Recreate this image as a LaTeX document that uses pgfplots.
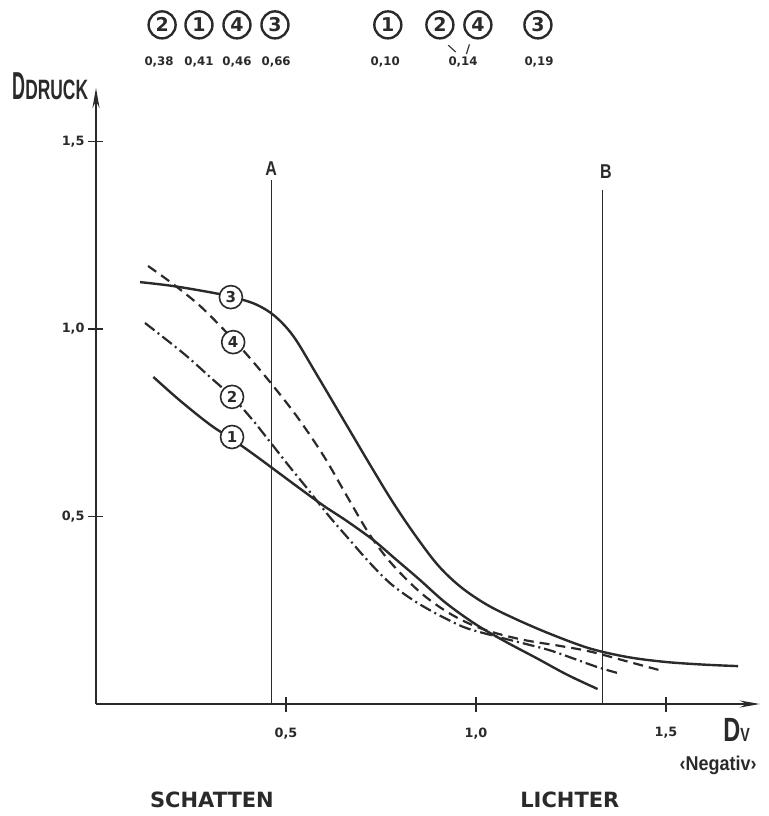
\documentclass[border=0pt]{standalone}
\usepackage{fontspec}
\setmainfont{DejaVu Sans}
\newfontfamily\lib{Liberation Sans}
\usepackage{graphicx}
\usepackage{pgfplots}
\pgfplotsset{compat=1.18}
\usetikzlibrary{arrows.meta}
\definecolor{ink}{HTML}{2A2A2A}

\pgfplotstableread{
x y
0.116 1.125
0.20 1.115
0.30 1.098
0.36 1.085
0.42 1.066
0.47 1.035
0.52 0.980
0.58 0.880
0.65 0.760
0.72 0.640
0.78 0.540
0.84 0.450
0.90 0.370
0.96 0.312
1.03 0.264
1.11 0.224
1.20 0.185
1.30 0.148
1.40 0.125
1.50 0.112
1.60 0.105
1.69 0.101
}\curveC

\pgfplotstableread{
x y
0.137 1.168
0.20 1.122
0.27 1.065
0.33 1.005
0.39 0.940
0.46 0.856
0.53 0.765
0.60 0.660
0.66 0.555
0.72 0.452
0.78 0.372
0.86 0.292
0.94 0.236
1.02 0.199
1.12 0.172
1.22 0.155
1.30 0.140
1.40 0.113
1.484 0.090
}\curveD

\pgfplotstableread{
x y
0.129 1.016
0.229 0.936
0.30 0.872
0.358 0.819
0.41 0.760
0.458 0.699
0.51 0.632
0.555 0.576
0.61 0.505
0.668 0.437
0.72 0.377
0.774 0.322
0.83 0.280
0.879 0.250
0.93 0.223
0.976 0.202
1.05 0.181
1.12 0.163
1.195 0.143
1.26 0.120
1.318 0.099
1.371 0.083
}\curveB

\pgfplotstableread{
x y
0.151 0.872
0.22 0.810
0.30 0.745
0.36 0.705
0.42 0.662
0.48 0.617
0.54 0.572
0.60 0.528
0.66 0.488
0.73 0.437
0.79 0.385
0.85 0.333
0.92 0.270
1.00 0.212
1.08 0.165
1.16 0.122
1.24 0.078
1.32 0.040
}\curveA

\begin{document}
\begin{tikzpicture}
\path[use as bounding box] (-48pt,-56pt) rectangle (336pt,352pt);
\begin{axis}[
  anchor=origin, at={(0pt,0pt)},
  x=190pt, y=187.5pt,
  xmin=0, xmax=1.747, ymin=0, ymax=1.643,
  axis lines=left,
  axis line style={line width=1.1pt, ink},
  x axis line style={-{Stealth[length=10pt,width=3.5pt]}},
  y axis line style={-{Stealth[length=10pt,width=3.5pt]}},
  xtick={0.5,1,1.5}, ytick={0.5,1,1.5},
  tick align=center,
  major tick length=7.5pt,
  tick style={line width=0.6pt, ink},
  /pgf/number format/use comma,
  /pgf/number format/fixed,
  /pgf/number format/fixed zerofill,
  /pgf/number format/precision=1,
  /pgf/number format/assume math mode=true,
  ticklabel style={font=\bfseries\fontsize{6.4}{6.4}\selectfont, text=ink},
  xticklabel style={yshift=-4.5pt},
  yticklabel style={xshift=1.5pt},
  clip=false,
]
% reference lines A and B
\addplot[ink, line width=0.5pt] coordinates {(0.463,0) (0.463,1.397)};
\addplot[ink, line width=0.5pt] coordinates {(1.334,0) (1.334,1.371)};

% curves
\addplot[ink, line width=1.2pt, smooth, tension=0.55] table {\curveC};
\addplot[ink, line width=1.1pt, smooth, tension=0.55, dash pattern=on 5pt off 3pt] table {\curveD};
\addplot[ink, line width=1.1pt, smooth, tension=0.55, dash pattern=on 6pt off 2pt on 1pt off 2pt] table {\curveB};
\addplot[ink, line width=1.2pt, smooth, tension=0.55] table {\curveA};

% circled labels on the curves
\tikzset{cl/.style={circle, draw=ink, line width=0.8pt, fill=white, minimum size=11.5pt, inner sep=0pt, text=ink, font=\bfseries\fontsize{7.5}{7.5}\selectfont}}
\node[cl] at (axis cs:0.355,1.085) {3};
\node[cl] at (axis cs:0.361,0.965) {4};
\node[cl] at (axis cs:0.358,0.819) {2};
\node[cl] at (axis cs:0.358,0.712) {1};

% A and B
\node[text=ink, font=\lib\bfseries\fontsize{10}{10}\selectfont] at (axis cs:0.461,1.429) {\scalebox{0.8}[1]{A}};
\node[text=ink, font=\lib\bfseries\fontsize{10}{10}\selectfont] at (axis cs:1.342,1.419) {\scalebox{0.8}[1]{B}};

% top circled labels and values
\tikzset{tc/.style={circle, draw=ink, line width=1.2pt, minimum size=13.5pt, inner sep=0pt, text=ink, font=\bfseries\fontsize{9.5}{9.5}\selectfont},
         tv/.style={text=ink, font=\bfseries\fontsize{5.9}{5.9}\selectfont}}
\node[tc] at (axis cs:0.174,1.811) {2};
\node[tc] at (axis cs:0.271,1.811) {1};
\node[tc] at (axis cs:0.371,1.811) {4};
\node[tc] at (axis cs:0.471,1.811) {3};
\node[tv] at (axis cs:0.166,1.712) {0,38};
\node[tv] at (axis cs:0.271,1.712) {0,41};
\node[tv] at (axis cs:0.371,1.712) {0,46};
\node[tv] at (axis cs:0.474,1.712) {0,66};
\node[tc] at (axis cs:0.768,1.811) {1};
\node[tc] at (axis cs:0.905,1.811) {2};
\node[tc] at (axis cs:1.005,1.811) {4};
\node[tc] at (axis cs:1.163,1.811) {3};
\node[tv] at (axis cs:0.761,1.712) {0,10};
\node[tv] at (axis cs:0.966,1.712) {0,14};
\node[tv] at (axis cs:1.166,1.712) {0,19};
\node[text=ink, font=\bfseries\fontsize{6}{6}\selectfont, rotate=30] at (axis cs:0.937,1.746) {\textbackslash};
\node[text=ink, font=\bfseries\fontsize{6}{6}\selectfont] at (axis cs:0.979,1.746) {/};

% axis titles
\node[anchor=base west, inner sep=0pt, text=ink] at (axis cs:-0.221,1.611)
  {\lib\bfseries\scalebox{0.46}[1]{\fontsize{19.5}{20}\selectfont D}\scalebox{0.62}[1]{\fontsize{14}{14}\selectfont DRUCK}};
\node[anchor=base west, inner sep=0pt, text=ink] at (axis cs:1.65,-0.101)
  {\lib\bfseries\scalebox{0.7}[1]{\fontsize{16.8}{17}\selectfont D}\scalebox{0.75}[1]{\fontsize{9.5}{10}\selectfont V}};
\node[text=ink, font=\lib\bfseries\fontsize{10}{10}\selectfont] at (axis cs:1.637,-0.163) {\scalebox{0.9}[1]{‹Negativ›}};

% bottom labels
\node[text=ink, font=\bfseries\fontsize{10.5}{10.5}\selectfont] at (axis cs:0.305,-0.256) {SCHATTEN};
\node[text=ink, font=\bfseries\fontsize{10.5}{10.5}\selectfont] at (axis cs:1.247,-0.256) {LICHTER};
\end{axis}
\end{tikzpicture}
\end{document}
